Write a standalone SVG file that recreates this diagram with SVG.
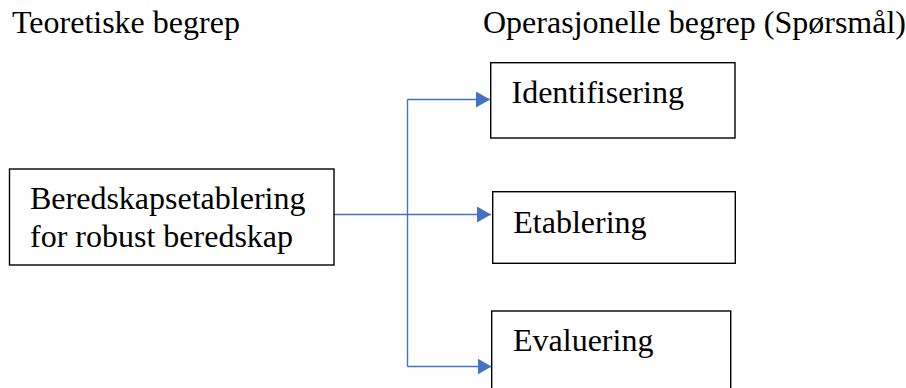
<svg xmlns="http://www.w3.org/2000/svg" width="906" height="388" viewBox="0 0 906 388">
  <style>
    .box { fill: #ffffff; stroke: #000000; stroke-width: 1.4; }
    .lbl { font-size: 32px; fill: #000000; }
    .conn { fill: none; stroke: #4472C4; stroke-width: 1.4; }
  </style>
  <defs>
    <marker id="arrow" markerWidth="14" markerHeight="16" refX="14" refY="8" orient="auto" markerUnits="userSpaceOnUse">
      <path d="M0,0 L14,8 L0,16 Z" fill="#4472C4"/>
    </marker>
  </defs>
  <rect width="906" height="388" fill="#ffffff"/>

  <g font-family="Liberation Serif, Times New Roman, serif">
    <!-- column headings -->
    <text class="lbl" x="12" y="33">Teoretiske begrep</text>
    <text class="lbl" x="483" y="33">Operasjonelle begrep (Spørsmål)</text>

    <!-- connectors -->
    <g id="connectors">
      <path class="conn" d="M334,214.5 L491,214.5" marker-end="url(#arrow)"/>
      <path class="conn" d="M407.5,99.5 L407.5,366.5"/>
      <path class="conn" d="M407.5,99.5 L490,99.5" marker-end="url(#arrow)"/>
      <path class="conn" d="M407.5,366.5 L491.5,366.5" marker-end="url(#arrow)"/>
    </g>

    <g id="beredskapsetablering">
      <rect class="box" x="9.5" y="169" width="324.5" height="96"/>
      <text class="lbl" x="30" y="209">Beredskapsetablering</text>
      <text class="lbl" x="30" y="247">for robust beredskap</text>
    </g>

    <g id="identifisering">
      <rect class="box" x="490.7" y="62.7" width="244.3" height="75.3"/>
      <text class="lbl" x="511.5" y="103.3">Identifisering</text>
    </g>

    <g id="etablering">
      <rect class="box" x="492.7" y="191.7" width="242.6" height="71.6"/>
      <text class="lbl" x="513.3" y="232.7">Etablering</text>
    </g>

    <g id="evaluering">
      <rect class="box" x="491.7" y="311" width="239" height="90"/>
      <text class="lbl" x="513" y="350.7">Evaluering</text>
    </g>
  </g>
</svg>
